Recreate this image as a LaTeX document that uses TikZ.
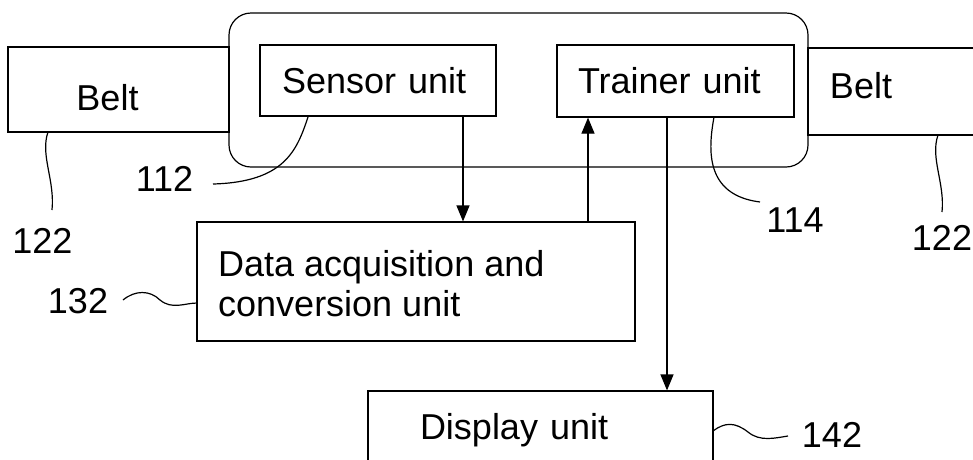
\documentclass[tikz,border=0pt]{standalone}
\usepackage{fontspec}
\setmainfont{Liberation Sans}
\usetikzlibrary{arrows.meta}
\begin{document}
\begin{tikzpicture}[x=1pt,y=-1pt,
  every node/.style={font=\fontsize{36}{40}\selectfont},
  box/.style={draw, line width=1.2pt, inner ysep=0pt, align=left},
  lbl/.style={inner sep=0pt},
  lead/.style={line width=1.2pt},
  arr/.style={line width=1.2pt, -{Triangle[length=16pt,width=13pt]}}]
\clip (0,0) rectangle (973,459);
\fill[white] (0,0) rectangle (973,459);
% belts
\node[box, inner sep=0pt, minimum width=221pt, minimum height=85pt] (beltL) at (118.5,89.5) {};
\node[lbl] (beltLt) at (107.5,97.5) {Belt};
\node[box, inner sep=0pt, minimum width=187pt, minimum height=87pt] (beltR) at (901.5,91.5) {};
\node[lbl] (beltRt) at (861,85.5) {Belt};
% device housing
\node[draw, line width=1.2pt, rounded corners=22pt, minimum width=579pt, minimum height=154pt] (dev) at (518.5,90) {};
% units
\node[box, inner xsep=22pt, text width=192pt, minimum height=71pt] (sensor) at (378,80.5) {Sensor unit};
\node[box, inner xsep=21pt, text width=195pt, minimum height=72pt] (trainer) at (675.5,81) {Trainer unit};
\node[box, inner sep=0pt, minimum width=438pt, minimum height=119pt] (data) at (416,281.5) {};
\node[lbl, anchor=south west, align=left] (datat) at (218,317) {Data acquisition and\\conversion unit};
\node[box, inner xsep=52pt, text width=241pt, minimum height=78pt] (display) at (540.5,430) {Display unit};
% arrows
\coordinate (s1) at ([xshift=85pt]sensor.south);
\draw[arr] (s1) -- (s1 |- data.north);
\coordinate (d1) at ([xshift=172pt]data.north);
\draw[arr] (d1) -- (d1 |- trainer.south);
\coordinate (t1) at ([xshift=-8.5pt]trainer.south);
\draw[arr] (t1) -- (t1 |- display.north);
% reference labels
\node[lbl] (l112) at (164.5,179) {112};
\node[lbl] (l114) at (795,220) {114};
\node[lbl] (l122a) at (42.5,241) {122};
\node[lbl] (l122b) at (942,237.5) {122};
\node[lbl] (l132) at (78,301) {132};
\node[lbl] (l142) at (832,435) {142};
\coordinate (c112a) at (213,184);
\coordinate (c112b) at (308,117);
\draw[lead] (c112a) .. controls (285,182) and (297,150) .. (c112b);
\coordinate (c114a) at (714,117);
\coordinate (c114b) at (760,202);
\draw[lead] (c114a) .. controls (708,150) and (705,195) .. (c114b);
\coordinate (c122a) at (48,132);
\coordinate (c122b) at (52,210);
\draw[lead] (c122a) .. controls (40,155) and (55,180) .. (c122b);
\coordinate (c122c) at (938,135);
\coordinate (c122d) at (942,212);
\draw[lead] (c122c) .. controls (930,158) and (945,183) .. (c122d);
\coordinate (c132a) at (123,300);
\coordinate (c132b) at (197,303);
\draw[lead] (c132a) .. controls (135,290) and (150,290) .. (160,300) .. controls (172,310) and (185,303) .. (c132b);
\coordinate (c142a) at (713,431);
\coordinate (c142b) at (788,436);
\draw[lead] (c142a) .. controls (725,422) and (735,422) .. (748,432) .. controls (760,442) and (775,438) .. (c142b);
\end{tikzpicture}
\end{document}
